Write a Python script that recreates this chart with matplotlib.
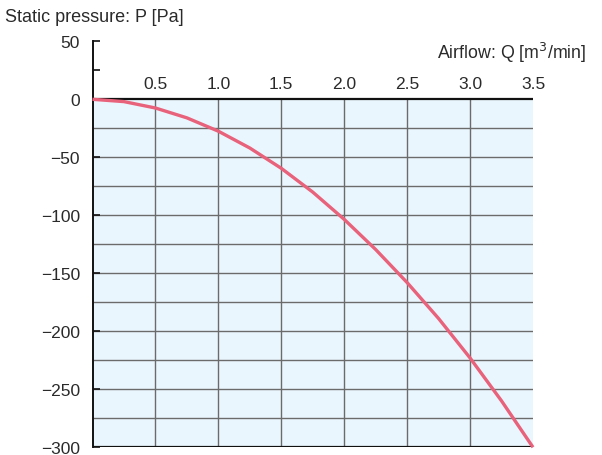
import numpy as np
import matplotlib
matplotlib.use("Agg")
import matplotlib.pyplot as plt

plt.rcParams['font.family'] = ['Liberation Sans', 'DejaVu Sans']

# airflow Q [m3/min] vs static pressure P [Pa]
airflow = [0, 0.25, 0.5, 0.75, 1.0, 1.25, 1.5, 1.75, 2.0, 2.25, 2.5, 2.75, 3.0, 3.25, 3.5]
pressure = [0, -2, -7.5, -16, -27.5, -42, -59.5, -80, -103.5, -129.5, -158, -189, -223, -260, -300]

x_ticks = [0.5, 1.0, 1.5, 2.0, 2.5, 3.0, 3.5]
x_labels = ['0.5', '1.0', '1.5', '2.0', '2.5', '3.0', '3.5']
y_ticks = [50, 0, -50, -100, -150, -200, -250, -300]
y_grid = [-25, -50, -75, -100, -125, -150, -175, -200, -225, -250, -275]

fig = plt.figure(figsize=(6.02, 4.56), dpi=100)
ax = fig.add_axes([92.5/602, 1 - 448.3/456, (533 - 92.5)/602, (448.3 - 42.3)/456])

xmin, xmax = 0, 3.5
ymin, ymax = -300, 50
ax.set_xlim(xmin, xmax)
ax.set_ylim(ymin, ymax)

# shaded plotting region
ax.fill_between([xmin, xmax], ymin, 0, color='#eaf6fd', zorder=0, lw=0)

# grid only inside the shaded region
ax.hlines(y_grid, xmin, xmax, color='#6b6b6b', lw=1.0, zorder=1)
ax.vlines(x_ticks[:-1], ymin, 0, color='#6b6b6b', lw=1.0, zorder=1)
ax.hlines([0, ymin], xmin, xmax, color='#111111', lw=1.6, zorder=2)

ax.plot(airflow, pressure, color='#e8627b', lw=2.4, zorder=3, clip_on=False,
        solid_capstyle='butt', solid_joinstyle='round')

for s in ['top', 'right', 'bottom']:
    ax.spines[s].set_visible(False)
ax.spines['left'].set_color('#111111')
ax.spines['left'].set_linewidth(1.4)

ax.set_xticks([])
ax.set_yticks(y_ticks)
ax.set_yticklabels([str(v).replace('-', '\u2212') for v in y_ticks])
ax.set_yticks([25], minor=True)
ax.tick_params(axis='y', which='both', direction='in', length=5, width=1.2,
               color='#111111', labelsize=12.5, labelcolor='#2a2a2a', pad=9)

for xv, lab in zip(x_ticks, x_labels):
    ax.annotate(lab, (xv, 0), xytext=(0, 6), textcoords='offset points',
                ha='center', va='bottom', fontsize=12.5, color='#2a2a2a')

fig.text(5/602, 1 - 18/456, 'Static pressure: P [Pa]', ha='left', va='center',
         fontsize=13, color='#2a2a2a')
fig.text(586/602, 1 - 53/456, 'Airflow: Q [m$^3$/min]', ha='right', va='center',
         fontsize=12.8, color='#2a2a2a')

fig.savefig('out.png', dpi=100)
